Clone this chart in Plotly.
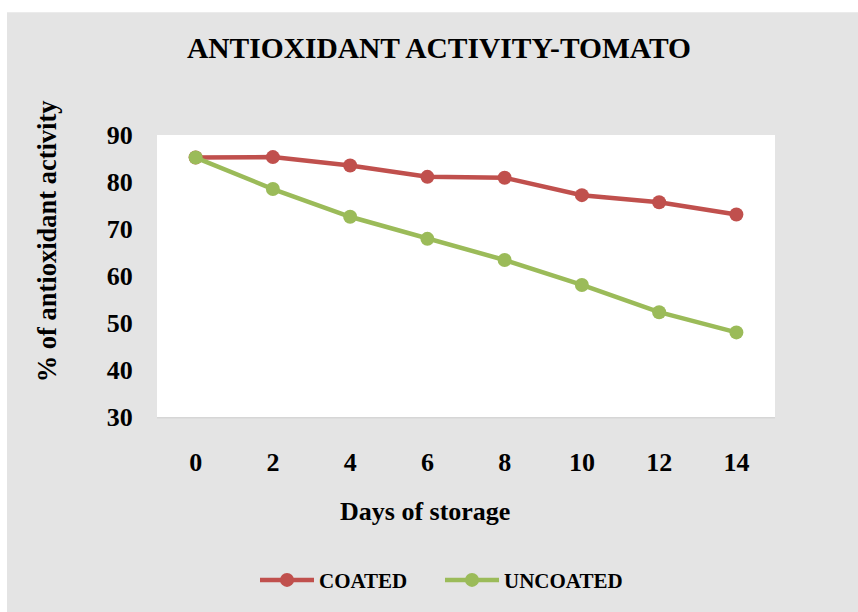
import plotly.graph_objects as go

# Storage days and % antioxidant activity for tomato samples
days = ["0", "2", "4", "6", "8", "10", "12", "14"]
coated = [85.2, 85.3, 83.5, 81.1, 80.9, 77.2, 75.7, 73.1]
uncoated = [85.2, 78.5, 72.6, 67.9, 63.4, 58.1, 52.3, 48.0]

RED = "#C0504D"
GREEN = "#9BBB59"
BG = "#E4E4E4"
FONT = "Liberation Serif"

W, H = 858, 612
L, R, T, B = 157, 83, 135, 192
pw, ph = W - L - R, H - T - B


def px_x(x):
    return (x - L) / pw


def px_y(y):
    return (H - B - y) / ph


fig = go.Figure()
fig.add_trace(go.Scatter(
    x=days, y=coated, name="<b>COATED</b>", mode="lines+markers",
    line=dict(color=RED, width=4.5), marker=dict(color=RED, size=14),
))
fig.add_trace(go.Scatter(
    x=days, y=uncoated, name="<b>UNCOATED</b>", mode="lines+markers",
    line=dict(color=GREEN, width=4.5), marker=dict(color=GREEN, size=14),
))

shapes = [
    # grey chart-area panel
    dict(type="rect", xref="paper", yref="paper", layer="below",
         x0=px_x(7), x1=px_x(W + 5), y0=px_y(H + 5), y1=px_y(11),
         fillcolor=BG, line=dict(width=0)),
    # white plot area with a soft bottom edge
    dict(type="rect", xref="paper", yref="paper", layer="below",
         x0=0, x1=1, y0=px_y(421.5), y1=1,
         fillcolor="#D6D6D6", line=dict(width=0)),
    dict(type="rect", xref="paper", yref="paper", layer="below",
         x0=0, x1=1, y0=0, y1=1,
         fillcolor="white", line=dict(width=0)),
]

annotations = [
    dict(text="<b>Days of storage</b>", xref="paper", yref="paper",
         x=px_x(425), y=px_y(516), xanchor="center", yanchor="middle",
         showarrow=False, font=dict(family=FONT, size=26, color="black")),
    dict(text="<b>% of antioxidant activity</b>", xref="paper", yref="paper",
         x=px_x(46.5), y=px_y(242), xanchor="center", yanchor="middle",
         textangle=-90, showarrow=False,
         font=dict(family=FONT, size=26.5, color="black")),
]

fig.update_layout(
    width=W, height=H,
    margin=dict(l=L, r=R, t=T, b=B),
    paper_bgcolor="white", plot_bgcolor="white",
    title=dict(text="<b>ANTIOXIDANT ACTIVITY-TOMATO</b>",
               x=439 / W, y=1 - 48 / H, xanchor="center", yanchor="middle",
               font=dict(family=FONT, size=29.5, color="black")),
    font=dict(family=FONT, color="black"),
    showlegend=True,
    legend=dict(orientation="h", x=px_x(440), y=px_y(585),
                xanchor="center", yanchor="middle",
                bgcolor="rgba(0,0,0,0)",
                font=dict(family=FONT, size=21, color="black"),
                itemwidth=54, entrywidth=116, entrywidthmode="pixels",
                traceorder="normal"),
    shapes=shapes,
    annotations=annotations,
)

fig.update_xaxes(
    type="category", categoryorder="array", categoryarray=days,
    range=[-0.5, 7.5], showgrid=False, zeroline=False, showline=False,
    ticks="outside", ticklen=22, tickcolor="rgba(0,0,0,0)",
    tickfont=dict(family=FONT, size=26, color="black"),
    tickprefix="<b>", ticksuffix="</b>",
)
fig.update_yaxes(
    range=[30, 90], dtick=10, tick0=30, showgrid=False, zeroline=False,
    showline=False, ticks="outside", ticklen=18,
    tickcolor="rgba(0,0,0,0)",
    tickfont=dict(family=FONT, size=26, color="black"),
    tickprefix="<b>", ticksuffix="</b>",
)

fig.write_html("out.html")
